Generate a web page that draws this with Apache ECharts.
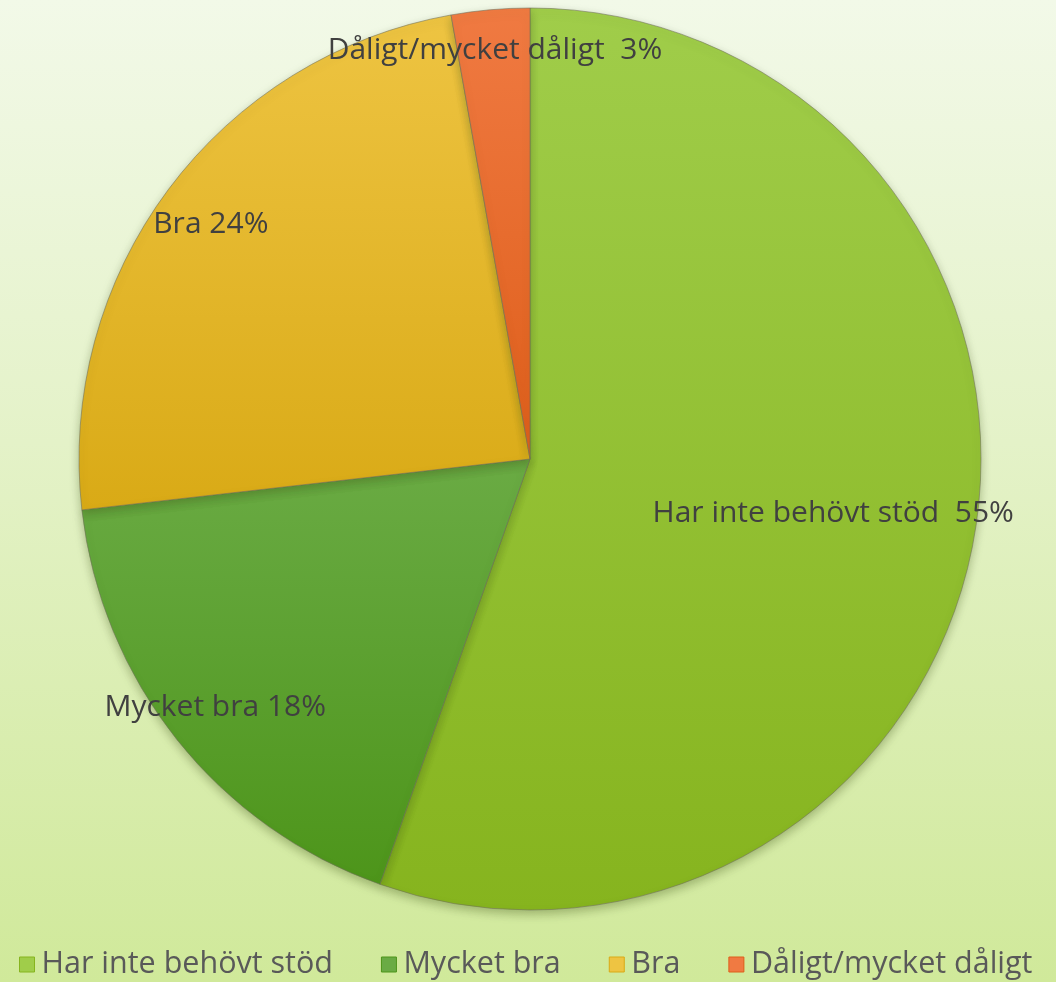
<!DOCTYPE html>
<html>
<head>
<meta charset="utf-8">
<script src="https://cdn.jsdelivr.net/npm/echarts@6/dist/echarts.min.js"></script>
<style>
html,body{margin:0;padding:0;}
#c{width:1056px;height:982px;background:linear-gradient(to bottom,#f2f9e8 0%,#e4f2c8 45%,#d0e99a 100%);}
</style>
</head>
<body>
<div id="c"></div>
<script>
const categories = ['Har inte behövt stöd', 'Mycket bra', 'Bra', 'Dåligt/mycket dåligt'];
const values = [55.4, 17.8, 24.0, 2.8];
const labelTexts = ['Har inte behövt stöd  55%', 'Mycket bra 18%', 'Bra 24%', 'Dåligt/mycket dåligt  3%'];
const topColors = ['#a0cd4a', '#6aab44', '#eec442', '#f07a42'];
const bottomColors = ['#86b41e', '#4d951a', '#d9aa16', '#de5e1a'];
const labelOffsets = [[78, 16], [-136, 106], [-136, -98], [-15, -181]];

const chart = echarts.init(document.getElementById('c'), null, {renderer: 'canvas'});
const data = categories.map((name, i) => ({
  name: name,
  value: values[i],
  itemStyle: {
    color: new echarts.graphic.LinearGradient(0, 0, 0, 1, [
      {offset: 0, color: topColors[i]},
      {offset: 1, color: bottomColors[i]}
    ])
  },
  label: {formatter: labelTexts[i], offset: labelOffsets[i]}
}));

chart.setOption({
  animation: false,
  legend: {
    data: categories.map((n, i) => ({name: n, itemStyle: {color: topColors[i], borderColor: bottomColors[i], borderWidth: 1}})),
    bottom: -3,
    left: 14,
    icon: 'rect',
    itemWidth: 15,
    itemHeight: 15,
    itemGap: 48,
    textStyle: {fontFamily: 'Open Sans', fontSize: 30.5, color: '#595959', padding: [0, 0, 0, 2]}
  },
  series: [{
    type: 'pie',
    center: [530, 459],
    radius: [0, 451],
    startAngle: 90,
    clockwise: true,
    avoidLabelOverlap: false,
    itemStyle: {
      borderColor: 'rgba(110,110,90,0.55)',
      borderWidth: 1,
      shadowColor: 'rgba(60,80,20,0.35)',
      shadowBlur: 10,
      shadowOffsetY: 4
    },
    label: {
      show: true,
      position: 'inside',
      fontFamily: 'Open Sans',
      fontSize: 30,
      color: '#404040'
    },
    labelLine: {show: false},
    emphasis: {disabled: true},
    data: data
  }]
});
</script>
</body>
</html>
